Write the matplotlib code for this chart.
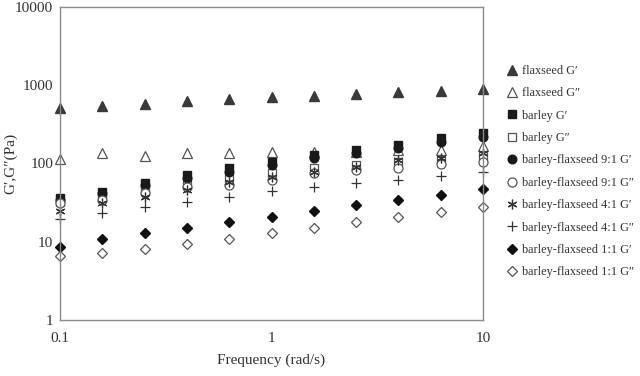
import matplotlib
matplotlib.use("Agg")
import matplotlib.pyplot as plt
from matplotlib.ticker import FixedLocator, FixedFormatter, NullLocator

plt.rcParams['font.family'] = ['Liberation Serif', 'DejaVu Serif']

freq = [0.1, 0.158, 0.251, 0.398, 0.631, 1.0, 1.585, 2.512, 3.981, 6.310, 10.0]

flax_Gp = [516, 543, 581, 632, 661, 714, 729, 773, 814, 845, 888]
flax_Gpp = [114, 135, 126, 137, 135, 141, 140, 142, 147, 150, 167]
barley_Gp = [36, 43.6, 55.8, 71, 87, 106, 129, 149, 172, 210, 243]
barley_Gpp = [32, 37.7, 46, 56, 65, 75, 87, 96, 106, 111, 123]
bf91_Gp = [34, 41.5, 53, 65, 78.6, 95, 116, 137, 156, 187, 220]
bf91_Gpp = [31, 34, 41.5, 50, 53, 61.6, 75, 83, 87, 100, 106]
bf41_Gp = [25, 31, 37.7, 46, 58.6, 68, 78.6, 91, 111, 116, 135]
bf41_Gpp = [19.4, 23.5, 27.6, 32.5, 37, 44.6, 50, 57, 61.6, 70, 78.6]
bf11_Gp = [8.6, 10.8, 13, 14.9, 17.7, 20.7, 24.7, 29.5, 34, 40, 47]
bf11_Gpp = [6.6, 7.1, 8.1, 9.4, 10.7, 13, 15.2, 17.7, 20.6, 24, 27.6]

labels = ["flaxseed G\u2032", "flaxseed G\u2033", "barley G\u2032", "barley G\u2033",
          "barley-flaxseed 9:1 G\u2032", "barley-flaxseed 9:1 G\u2033",
          "barley-flaxseed 4:1 G\u2032", "barley-flaxseed 4:1 G\u2033",
          "barley-flaxseed 1:1 G\u2032", "barley-flaxseed 1:1 G\u2033"]

x_ticks = [0.1, 1, 10]
x_ticklabels = ["0.1", "1", "10"]
y_ticks = [1, 10, 100, 1000, 10000]
y_ticklabels = ["1", "10", "100", "1000", "10000"]

series = [flax_Gp, flax_Gpp, barley_Gp, barley_Gpp, bf91_Gp, bf91_Gpp,
          bf41_Gp, bf41_Gpp, bf11_Gp, bf11_Gpp]

styles = [
    dict(marker='^', ms=6.5, mfc='#3a3a3a', mec='#3a3a3a'),
    dict(marker='^', ms=6.5, mfc='white', mec='#555555', mew=0.9),
    dict(marker='s', ms=5.8, mfc='#1a1a1a', mec='#1a1a1a'),
    dict(marker='s', ms=6.2, mfc='white', mec='#555555', mew=0.9),
    dict(marker='o', ms=6.2, mfc='#1a1a1a', mec='#1a1a1a'),
    dict(marker='o', ms=6.5, mfc='white', mec='#555555', mew=0.9),
    dict(marker=(6, 2, 0), ms=7, mfc='none', mec='#333333', mew=0.9),
    dict(marker='+', ms=7, mfc='none', mec='#333333', mew=0.9),
    dict(marker='D', ms=4.8, mfc='#111111', mec='#111111'),
    dict(marker='D', ms=4.8, mfc='white', mec='#555555', mew=0.9),
]

fig = plt.figure(figsize=(6.4, 3.76), dpi=100)
ax = fig.add_axes([60/640, 1-320/376, (483-60)/640, (320-7)/376])

handles = []
for vals, lab, st in zip(series, labels, styles):
    h, = ax.plot(freq, vals, linestyle='none', label=lab, clip_on=False, **st)
    handles.append(h)

ax.set_xscale('log')
ax.set_yscale('log')
ax.set_xlim(0.1, 10)
ax.set_ylim(1, 10000)
ax.xaxis.set_major_locator(FixedLocator(x_ticks))
ax.xaxis.set_major_formatter(FixedFormatter(x_ticklabels))
ax.yaxis.set_major_locator(FixedLocator(y_ticks))
ax.yaxis.set_major_formatter(FixedFormatter(y_ticklabels))
ax.xaxis.set_minor_locator(NullLocator())
ax.yaxis.set_minor_locator(NullLocator())
ax.tick_params(length=0, labelsize=11, colors='#333333')
ax.tick_params(axis='x', pad=9)
ax.tick_params(axis='y', pad=5)
for s in ax.spines.values():
    s.set_color('#8a8a8a')
    s.set_linewidth(1.0)

ax.set_xlabel("Frequency (rad/s)", fontsize=11, color='#333333')
ax.xaxis.set_label_coords(0.5, -(360 - 320) / 313)
ax.xaxis.label.set_va('center')
ax.set_ylabel("G\u2032,G\u2033(Pa)", fontsize=11, color='#333333')
ax.yaxis.set_label_coords((11 - 60) / 423, 0.5)
ax.yaxis.label.set_va('center')

fig.legend(handles=handles, loc='upper left', bbox_to_anchor=(502/640, 1-60/376),
           frameon=False, fontsize=8.8, handlelength=0.8, handletextpad=0.45,
           labelspacing=0.85, borderaxespad=0, labelcolor='#333333')

fig.savefig("out.png", dpi=100)
